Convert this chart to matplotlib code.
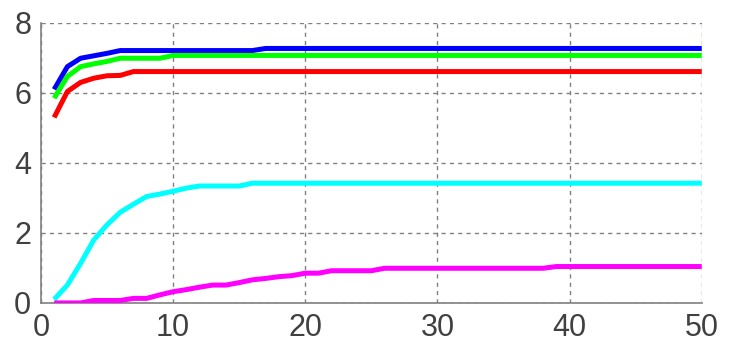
import numpy as np
import matplotlib.pyplot as plt

# iterations 1..50
x = np.arange(1, 51)

# series values
blue = [6.10, 6.75, 6.99, 7.06, 7.13] + [7.21] * 11 + [7.27] * 34
green = [5.85, 6.47, 6.75, 6.83, 6.90, 6.99, 6.99, 6.99, 6.99] + [7.07] * 41
red = [5.30, 6.04, 6.30, 6.42, 6.49, 6.50] + [6.61] * 44
cyan = [0.10, 0.51, 1.13, 1.80, 2.23, 2.59, 2.82, 3.04, 3.11, 3.19, 3.28,
        3.34, 3.34, 3.34, 3.34] + [3.42] * 35
magenta = [0.0, 0.0, 0.0, 0.07, 0.07, 0.07, 0.13, 0.13, 0.23, 0.32, 0.38,
           0.45, 0.51, 0.51, 0.58, 0.66, 0.70, 0.75, 0.78, 0.85, 0.85,
           0.92, 0.92, 0.92, 0.92] + [0.99] * 13 + [1.04] * 12

series = [
    (blue, "#0000ff"),
    (green, "#00ff00"),
    (red, "#ff0000"),
    (cyan, "#00ffff"),
    (magenta, "#ff00ff"),
]

xticks = [0, 10, 20, 30, 40, 50]
yticks = [0, 2, 4, 6, 8]

plt.rcParams["font.family"] = ["Liberation Sans", "DejaVu Sans"]

fig = plt.figure(figsize=(7.31, 3.47), dpi=100)
ax = fig.add_axes([0.056, 0.127, 0.904, 0.807])

for vals, col in series:
    ax.plot(x, vals, color=col, linewidth=3.6, solid_capstyle="butt", zorder=3)

ax.set_xlim(0, 50)
ax.set_ylim(0, 8)
ax.set_xticks(xticks)
ax.set_yticks(yticks)
ax.tick_params(length=0, labelsize=22, labelcolor="#404040", pad=7)

ax.grid(True, linestyle=(0, (3, 3)), color="#808080", linewidth=1.0)
for side in ["top", "right"]:
    ax.spines[side].set_visible(False)
for side in ["left", "bottom"]:
    ax.spines[side].set_color("#808080")
    ax.spines[side].set_linewidth(1.2)

fig.savefig("out.png", dpi=100)
